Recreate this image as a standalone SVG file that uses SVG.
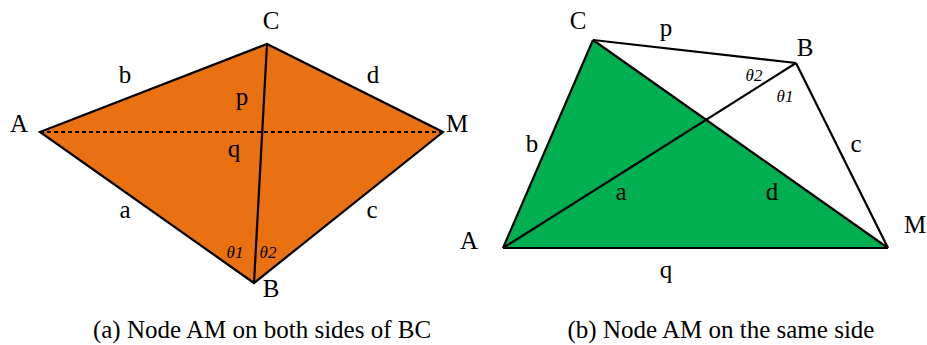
<svg xmlns="http://www.w3.org/2000/svg" width="927" height="345" viewBox="0 0 927 345">
<style>
.edge{stroke:#000;stroke-width:2.2;fill:none;stroke-linejoin:miter;stroke-linecap:butt}
.shape-a{stroke:#000;stroke-width:2.2;fill:#E97111;stroke-linejoin:miter}
.dash{stroke:#000;stroke-width:2;fill:none;stroke-dasharray:4 3}
.lbl{font-family:"Liberation Serif","Times New Roman","DejaVu Serif",serif;font-size:25px;fill:#000}
.ang{font-family:"Liberation Serif","Times New Roman","DejaVu Serif",serif;font-size:17px;font-style:italic;fill:#000}
.cap{font-family:"Liberation Serif","Times New Roman","DejaVu Serif",serif;font-size:25px;fill:#000}
</style>
<rect width="927" height="345" fill="#fff"/>
<g id="diagram-a">
  <polygon points="40,132 267,44 443,132 254,283" class="shape-a"/>
  <line x1="267" y1="44" x2="254" y2="283" class="edge"/>
  <line x1="40" y1="132" x2="443" y2="132" class="dash"/>
  <text class="lbl" x="19" y="132" text-anchor="middle">A</text>
  <text class="lbl" x="271" y="29" text-anchor="middle">C</text>
  <text class="lbl" x="446" y="132">M</text>
  <text class="lbl" x="271" y="297" text-anchor="middle">B</text>
  <text class="lbl" x="125" y="83" text-anchor="middle">b</text>
  <text class="lbl" x="373" y="83" text-anchor="middle">d</text>
  <text class="lbl" x="242" y="105" text-anchor="middle">p</text>
  <text class="lbl" x="234" y="157" text-anchor="middle">q</text>
  <text class="lbl" x="125" y="218" text-anchor="middle">a</text>
  <text class="lbl" x="372" y="218" text-anchor="middle">c</text>
  <text class="ang" x="235" y="258" text-anchor="middle">θ1</text>
  <text class="ang" x="268" y="258" text-anchor="middle">θ2</text>
  <text class="cap" x="262" y="338" text-anchor="middle">(a) Node AM on both sides of BC</text>
</g>
<g id="diagram-b">
  <polygon points="503,248 593,40 888,248" fill="#00AF50"/>
  <g id="connectors">
    <line x1="593" y1="40" x2="796" y2="63" class="edge"/>
    <line x1="796" y1="63" x2="888" y2="248" class="edge"/>
    <line x1="503" y1="248" x2="796" y2="63" class="edge"/>
    <line x1="593" y1="40" x2="888" y2="248" class="edge"/>
    <line x1="503" y1="248" x2="593" y2="40" class="edge"/>
    <line x1="503" y1="248" x2="888" y2="248" class="edge"/>
  </g>
  <text class="lbl" x="578" y="29" text-anchor="middle">C</text>
  <text class="lbl" x="666" y="36" text-anchor="middle">p</text>
  <text class="lbl" x="805" y="56" text-anchor="middle">B</text>
  <text class="ang" x="754" y="81" text-anchor="middle">θ2</text>
  <text class="ang" x="785" y="102" text-anchor="middle">θ1</text>
  <text class="lbl" x="532" y="152" text-anchor="middle">b</text>
  <text class="lbl" x="856" y="152" text-anchor="middle">c</text>
  <text class="lbl" x="621" y="200" text-anchor="middle">a</text>
  <text class="lbl" x="772" y="200" text-anchor="middle">d</text>
  <text class="lbl" x="469" y="249" text-anchor="middle">A</text>
  <text class="lbl" x="904" y="233">M</text>
  <text class="lbl" x="666" y="278" text-anchor="middle">q</text>
  <text class="cap" x="721" y="338" text-anchor="middle">(b) Node AM on the same side</text>
</g>
</svg>
